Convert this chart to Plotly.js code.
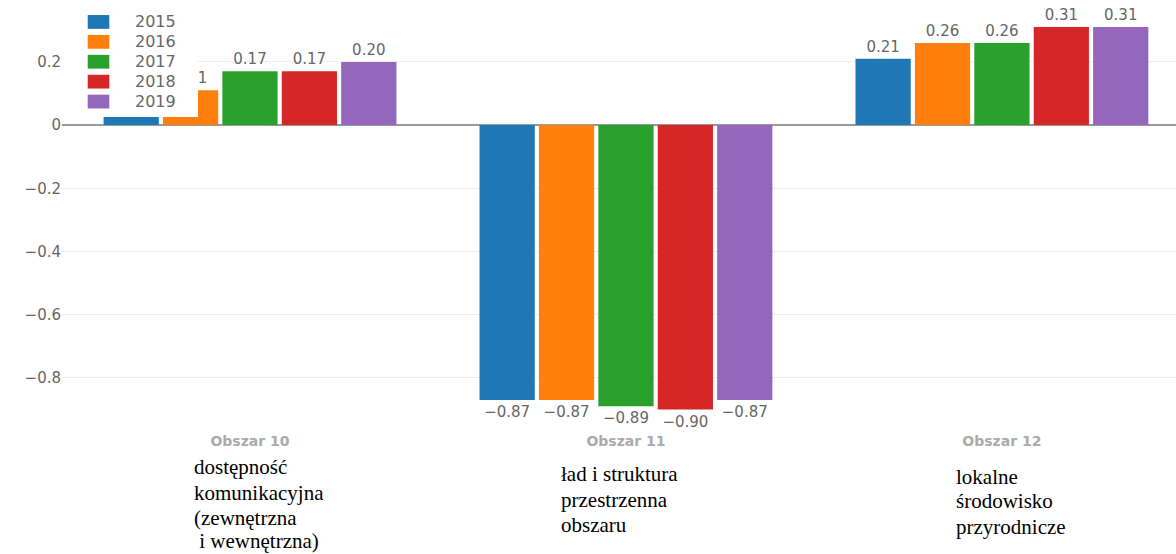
<!DOCTYPE html>
<html>
<head>
<meta charset="utf-8">
<script src="https://cdn.plot.ly/plotly-3.0.1.min.js"></script>
<style>
html,body{margin:0;padding:0;background:#fff;}
#chart{width:1176px;height:554px;}
</style>
</head>
<body>
<div id="chart"></div>
<script>
// ---- data ----
const categories = ["Obszar 10", "Obszar 11", "Obszar 12"];
const years = ["2015", "2016", "2017", "2018", "2019"];
const v2015 = [0.03, -0.87, 0.21];
const v2016 = [0.11, -0.87, 0.26];
const v2017 = [0.17, -0.89, 0.26];
const v2018 = [0.17, -0.90, 0.31];
const v2019 = [0.20, -0.87, 0.31];
const colors = ["#1f77b4", "#ff7f0e", "#2ca02c", "#d62728", "#9467bd"];
const descLines = [
  ["dostępność", "komunikacyjna", "(zewnętrzna", " i wewnętrzna)"],
  ["ład i struktura", "przestrzenna", "obszaru"],
  ["lokalne", "środowisko", "przyrodnicze"]
];
const tickVals = [-0.8, -0.6, -0.4, -0.2, 0, 0.2];
const tickText = ["−0.8", "−0.6", "−0.4", "−0.2", "0", "0.2"];

// ---- layout helpers ----
const W = 1176, H = 554;
const mL = 62, mT = 5, mB = 129, mR = 0;
const plotH = H - mT - mB;
const py = p => (H - mB - p) / plotH;       // pixel y -> paper y
const px = p => (p - mL) / (W - mL - mR);   // pixel x -> paper x

const series = [v2015, v2016, v2017, v2018, v2019];
const traces = series.map((vals, i) => ({
  type: "bar",
  name: years[i] + "\u00a0\u00a0\u00a0\u00a0\u00a0\u00a0",
  x: categories,
  y: vals,
  marker: {color: colors[i]},
  text: vals.map(v => v.toFixed(2).replace("-", "−")),
  textposition: "outside",
  cliponaxis: false,
  textfont: {family: "DejaVu Sans", size: 15, color: "#666"},
  hoverinfo: "x+y+name"
}));

const descX = [192, 559, 954];
const descY = [[467, 493, 518, 541], [474, 500, 525], [477, 501, 527]];
const annotations = [];
descLines.forEach((lines, g) => {
  lines.forEach((t, k) => {
    annotations.push({
      xref: "paper", yref: "paper",
      x: px(descX[g]), y: py(descY[g][k]),
      xanchor: "left", yanchor: "middle",
      text: t, showarrow: false,
      font: {family: "Liberation Serif", size: 21, color: "#000"}
    });
  });
});

const ITEMW = 63;
const layout = {
  width: W, height: H,
  margin: {l: mL, r: mR, t: mT, b: mB, pad: 0},
  paper_bgcolor: "#fff", plot_bgcolor: "#fff",
  barmode: "group",
  bargap: 0.21,
  bargroupgap: 0.07,
  showlegend: true,
  legend: {
    x: px(62), y: py(7), xanchor: "left", yanchor: "top",
    bgcolor: "rgba(255,255,255,1)",
    font: {family: "DejaVu Sans", size: 13, color: "#666"},
    itemwidth: ITEMW,
    traceorder: "normal",
    tracegroupgap: 0
  },
  xaxis: {
    range: [-0.5, 2.463],
    showgrid: false, zeroline: false, showline: false,
    ticks: "",
    ticklabelstandoff: 6,
    tickfont: {family: "DejaVu Sans", size: 14, color: "#aaa", weight: "bold"}
  },
  yaxis: {
    range: [-0.949, 0.380],
    tickvals: tickVals, ticktext: tickText,
    showgrid: true, gridcolor: "#eeeeee", gridwidth: 1,
    zeroline: true, zerolinecolor: "#999", zerolinewidth: 2,
    showline: false, ticks: "",
    tickfont: {family: "DejaVu Sans", size: 15, color: "#666"}
  },
  annotations: annotations
};

Plotly.newPlot("chart", traces, layout, {displayModeBar: false, staticPlot: true}).then(gd => {
  // widen the legend swatches to the flat rectangles of the reference
  const c = (ITEMW + 10) / 2;
  gd.querySelectorAll(".legendpoints path").forEach(p => {
    p.setAttribute("transform", "translate(" + c + ",0) scale(1.8,1.15)");
  });
  // larger legend lettering while keeping the compact row spacing
  gd.querySelectorAll(".legendtext").forEach(t => {
    t.style.fontSize = "16px";
    t.setAttribute("y", "5.5");
  });
});
</script>
</body>
</html>
